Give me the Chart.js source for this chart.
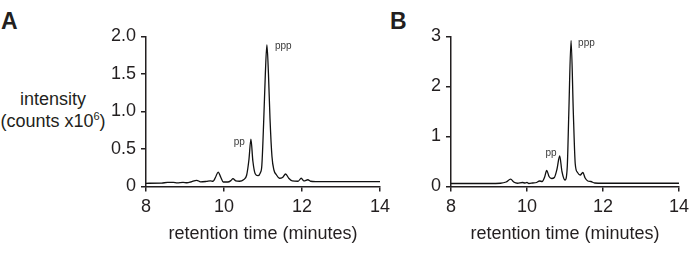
<!DOCTYPE html>
<html>
<head>
<meta charset="utf-8">
<script src="https://cdn.jsdelivr.net/npm/chart.js@4"></script>
<style>
  body { margin: 0; width: 694px; height: 253px; background: #fff; position: relative; overflow: hidden;
         font-family: "Liberation Sans", Arial, sans-serif; color: #231f20; }
  .box { position: absolute; top: 0; height: 253px; }
  #boxA { left: 0; width: 420px; }
  #boxB { left: 340px; width: 354px; }
  .letter { position: absolute; font-weight: bold; font-size: 23px; line-height: 23px; }
  #ytitle { position: absolute; left: 0; width: 106px; top: 88px; text-align: center; font-size: 18px; line-height: 22px; }
  #ytitle sup { font-size: 11px; vertical-align: baseline; position: relative; top: -7px; }
</style>
</head>
<body>
<div class="letter" style="left:1px;top:10px">A</div>
<div class="letter" style="left:390px;top:10px">B</div>
<div id="ytitle">intensity<br>(counts x10<sup>6</sup>)</div>
<div class="box" id="boxA"><canvas id="chartA"></canvas></div>
<div class="box" id="boxB"><canvas id="chartB"></canvas></div>
<script>
// chromatogram A
const timeA = [8.00, 8.40, 8.55, 8.70, 8.80, 8.95, 9.05, 9.15, 9.30, 9.40, 9.55, 9.65, 9.72, 9.78, 9.85, 9.92, 9.98,
  10.10, 10.18, 10.23, 10.30, 10.40, 10.50, 10.58, 10.64, 10.69, 10.74, 10.80, 10.87, 10.93, 10.97, 11.02, 11.06, 11.10,
  11.14, 11.18, 11.23, 11.28, 11.34, 11.42, 11.50, 11.58, 11.66, 11.75, 11.90, 11.98, 12.05, 12.15, 12.22, 12.35, 13.00, 14.00];
const intensityA = [0.043, 0.045, 0.055, 0.055, 0.048, 0.055, 0.05, 0.06, 0.083, 0.062, 0.068, 0.075, 0.07, 0.12, 0.193, 0.12, 0.06,
  0.06, 0.08, 0.104, 0.075, 0.07, 0.09, 0.15, 0.36, 0.633, 0.34, 0.17, 0.145, 0.18, 0.28, 0.9, 1.5, 1.887,
  1.5, 0.9, 0.4, 0.22, 0.16, 0.11, 0.12, 0.167, 0.11, 0.075, 0.07, 0.11, 0.075, 0.09, 0.07, 0.064, 0.064, 0.064];

// chromatogram B
const timeB = [8.00, 9.00, 9.30, 9.45, 9.57, 9.65, 9.75, 9.88, 9.95, 10.00, 10.05, 10.15, 10.25, 10.33, 10.40, 10.46, 10.52,
  10.58, 10.65, 10.72, 10.79, 10.86, 10.92, 11.00, 11.06, 11.10, 11.16, 11.22, 11.27, 11.33, 11.40, 11.47, 11.53, 11.60,
  11.68, 11.78, 12.00, 14.00];
const intensityB = [0.06, 0.06, 0.065, 0.09, 0.147, 0.09, 0.065, 0.08, 0.07, 0.08, 0.06, 0.07, 0.08, 0.11, 0.1, 0.18, 0.32,
  0.2, 0.16, 0.18, 0.35, 0.61, 0.3, 0.13, 0.4, 1.46, 2.92, 1.46, 0.45, 0.28, 0.23, 0.28, 0.17, 0.11,
  0.1, 0.07, 0.065, 0.065];

const xTicks = [8, 10, 12, 14];
const yTicksA = [0, 0.5, 1, 1.5, 2];
const yTickLabelsA = ['0', '0.5', '1.0', '1.5', '2.0'];
const yTicksB = [0, 1, 2, 3];
const yTickLabelsB = ['0', '1', '2', '3'];
const peakNames = ['pp', 'ppp'];
const peakTimesA = [10.69, 11.10];
const peakTimesB = [10.86, 11.16];

const FONT = '"Liberation Sans", Arial, sans-serif';
const INK = '#231f20';

const peakLabels = {
  id: 'peakLabels',
  afterDatasetsDraw(chart, args, opts) {
    const {ctx, scales: {x, y}} = chart;
    ctx.save();
    ctx.font = '10px ' + FONT;
    ctx.fillStyle = '#3a3a3a';
    opts.items.forEach(it => {
      ctx.textAlign = it.align;
      ctx.fillText(it.text, x.getPixelForValue(it.t) + it.dx, y.getPixelForValue(it.v) + it.dy);
    });
    ctx.restore();
  }
};

function axisStyle() {
  return {
    grid: { drawOnChartArea: false, drawTicks: true, tickLength: 5, lineWidth: 1.5, color: INK },
    border: { display: true, color: INK, width: 1.5 },
  };
}

function makeChart(id, times, values, yMax, yTicks, yLabels, yWidth, padRight, peakTimes, offsets) {
  const pts = times.map((t, i) => ({ x: t, y: values[i] }));
  const items = peakNames.map((n, i) => ({
    text: n, t: peakTimes[i], v: values[times.indexOf(peakTimes[i])],
    dx: offsets[i][0], dy: offsets[i][1], align: offsets[i][2]
  }));
  return new Chart(document.getElementById(id), {
    type: 'line',
    data: { datasets: [{ data: pts, borderColor: '#111', borderWidth: 1.3, pointRadius: 0,
                         cubicInterpolationMode: 'monotone', fill: false }] },
    options: {
      responsive: true,
      maintainAspectRatio: false,
      animation: false,
      layout: { padding: { left: 0, right: padRight, top: 36.5, bottom: 0 } },
      plugins: { legend: { display: false }, tooltip: { enabled: false }, peakLabels: { items } },
      scales: {
        x: Object.assign(axisStyle(), {
          type: 'linear', min: 8, max: 14,
          afterBuildTicks: s => { s.ticks = xTicks.map(v => ({ value: v })); },
          ticks: { font: { family: FONT, size: 18 }, color: INK, padding: 5, maxRotation: 0 },
          title: { display: true, text: 'retention time (minutes)', color: INK,
                   font: { family: FONT, size: 18 }, padding: { top: 0, bottom: 8 } },
          afterFit: s => { s.height = 66.5; }
        }),
        y: Object.assign(axisStyle(), {
          type: 'linear', min: 0, max: yMax,
          afterBuildTicks: s => { s.ticks = yTicks.map(v => ({ value: v })); },
          ticks: { font: { family: FONT, size: 18 }, color: INK, padding: 5,
                   callback: (v, i) => yLabels[i] },
          afterFit: s => { s.width = yWidth; }
        })
      }
    },
    plugins: [peakLabels]
  });
}

makeChart('chartA', timeA, intensityA, 2, yTicksA, yTickLabelsA, 146, 40, peakTimesA,
  [[-6, 6, 'right'], [8, 4.5, 'left']]);
makeChart('chartB', timeB, intensityB, 3, yTicksB, yTickLabelsB, 111, 10, peakTimesB,
  [[-3, 0, 'right'], [7, 5, 'left']]);
</script>
</body>
</html>
